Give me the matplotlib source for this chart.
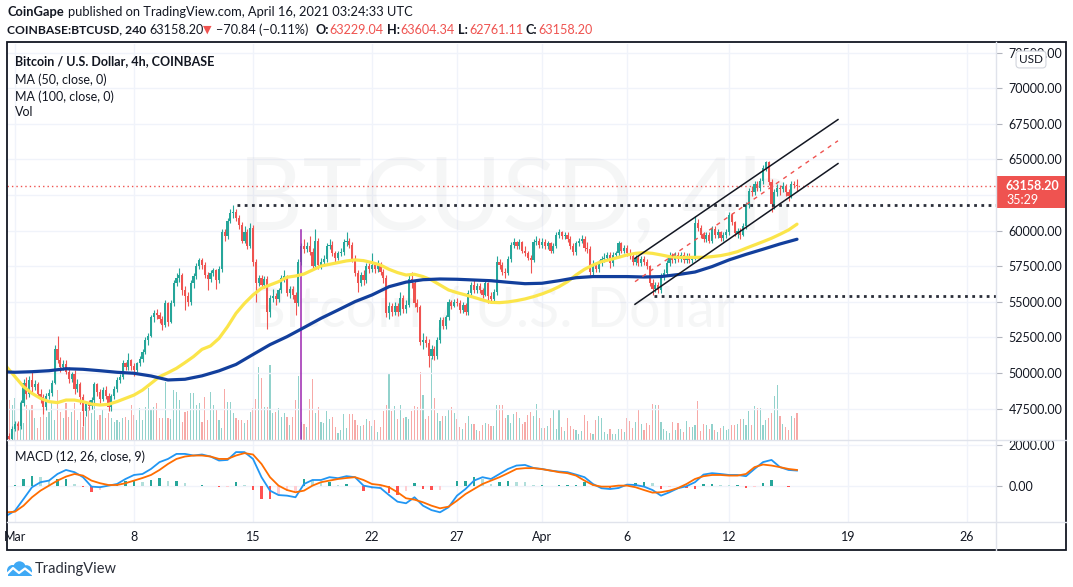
import numpy as np
import matplotlib
matplotlib.use('Agg')
import matplotlib.pyplot as plt
from matplotlib.patches import Rectangle, Circle
from matplotlib.lines import Line2D

plt.rcParams['font.family'] = ['Lato', 'DejaVu Sans']

# ---------------- data (4h candles, first = Feb 28 16:00 UTC) ----------------
first_open = 45600
closes = [
    45350, 46100,                               # Feb 28
    46400, 46300, 47900, 49300, 48500, 49500,   # Mar 1
    49000, 49200, 48500, 48300, 47600, 48400,   # Mar 2
    48600, 49300, 51700, 50900, 50400, 50600,   # Mar 3
    50100, 49600, 49900, 48900, 49200, 48300,   # Mar 4
    47300, 47800, 47700, 48100, 49200, 48700,   # Mar 5
    48200, 48800, 48400, 47600, 48400, 48900,   # Mar 6
    49500, 49700, 50700, 50400, 50900, 50500,   # Mar 7
    50200, 50700, 51000, 51500, 52300, 52600,   # Mar 8
    53900, 54200, 54100, 53800, 53400, 54900,   # Mar 9
    53600, 54900, 56300, 56700, 56900, 55800,   # Mar 10
    55400, 55000, 56300, 56800, 57500, 57900,   # Mar 11
    57600, 56900, 56600, 57000, 57200, 56500,   # Mar 12
    57300, 59900, 59600, 60700, 61200, 61300,   # Mar 13
    60900, 60400, 59300, 59900, 58900, 60200,   # Mar 14
    57800, 56300, 56700, 56200, 56600, 54300,   # Mar 15
    55300, 55400, 55200, 55800, 56700, 56800,   # Mar 16
    55600, 55900, 55500, 54900, 57800, 58900,   # Mar 17
    58700, 58900, 58500, 57500, 59300, 57600,   # Mar 18
    57800, 58000, 58900, 59000, 58400, 58100,   # Mar 19
    58400, 58500, 59200, 59300, 59000, 58000,   # Mar 20
    57000, 56300, 56900, 56500, 57500, 57300,   # Mar 21
    57600, 57300, 57600, 57100, 56700, 54200,   # Mar 22
    54700, 54300, 54700, 54300, 55300, 54500,   # Mar 23
    54800, 56600, 56300, 54900, 54600, 52200,   # Mar 24
    52300, 52100, 51200, 51700, 51200, 52300,   # Mar 25
    53700, 53300, 53900, 55000, 54700, 55000,   # Mar 26
    54900, 54400, 54800, 54300, 55600, 56200,   # Mar 27
    55800, 56100, 55800, 55500, 56300, 55400,   # Mar 28
    55200, 55700, 57800, 57600, 57100, 57000,   # Mar 29
    58000, 59000, 59200, 58900, 59200, 58600,   # Mar 30
    58400, 58100, 57900, 59200, 59300, 59000,   # Mar 31
    59200, 58900, 59100, 58600, 58900, 59700,   # Apr 1
    59900, 59600, 59700, 59400, 58900, 58500,   # Apr 2
    59100, 59300, 59400, 58800, 58700, 57100,   # Apr 3
    57600, 57300, 57700, 58000, 58100, 58300,   # Apr 4
    57700, 58300, 58400, 59100, 58600, 58800,   # Apr 5
    58400, 58200, 57800, 58100, 57700, 58000,   # Apr 6
    57800, 57500, 56300, 55900, 56200, 55800,   # Apr 7
    56800, 57000, 57700, 58300, 57900, 58300,   # Apr 8
    58000, 58300, 57900, 58200, 57900, 58000,   # Apr 9
    60500, 60200, 59700, 59400, 59700, 59300,   # Apr 10
    60100, 59700, 59900, 59500, 59700, 59900,   # Apr 11
    61100, 60600, 59800, 60000, 59700, 60300,   # Apr 12
    61800, 62800, 62700, 63300, 63000, 63500,   # Apr 13
    64400, 64800, 63400, 61900, 62700, 63000,   # Apr 14
    62900, 63100, 62700, 62400, 63300, 63229.04,  # Apr 15
    63158.20,                                   # Apr 16 00:00
]
highs = [
    45800, 46300,
    46600, 46600, 48100, 49600, 49700, 49800,
    50100, 49500, 49400, 48900, 48500, 48600,
    48900, 49500, 52000, 52600, 51100, 50900,
    50900, 50400, 50100, 50200, 49600, 49400,
    48500, 47900, 48100, 48300, 49400, 49300,
    48900, 49000, 49100, 48600, 48500, 49100,
    49700, 49900, 50900, 50800, 51400, 51000,
    50700, 50800, 51200, 51700, 52500, 52800,
    54100, 54400, 54500, 54300, 54000, 55100,
    55000, 55100, 56500, 57000, 57400, 57000,
    56100, 55700, 56500, 57000, 57700, 58100,
    58100, 57800, 57100, 57200, 57400, 57300,
    57500, 60100, 60100, 60900, 61500, 61800,
    61500, 61100, 60600, 60300, 60100, 60500,
    60400, 58000, 56900, 56900, 56800, 56800,
    55500, 55900, 55600, 56000, 56900, 57200,
    56900, 56100, 56100, 55700, 58000, 59100,
    59400, 59200, 59600, 58800, 60100, 59500,
    58100, 58300, 59100, 59400, 59300, 58600,
    58600, 58800, 59400, 59900, 59500, 59200,
    58300, 57200, 57100, 57200, 57700, 57700,
    58400, 57800, 57900, 57800, 57300, 56900,
    55000, 54900, 55000, 54900, 55700, 55500,
    55100, 56900, 57100, 56500, 55200, 54800,
    52800, 52600, 52400, 52000, 51900, 52500,
    53900, 53900, 54100, 55200, 55100, 55200,
    55300, 55100, 55000, 54900, 55800, 56400,
    56500, 56300, 56300, 56000, 56500, 56400,
    55700, 55900, 58200, 58000, 57800, 57400,
    58200, 59200, 59500, 59300, 59400, 59300,
    58900, 58600, 58300, 59400, 59600, 59500,
    59500, 59400, 59300, 59200, 59100, 59900,
    60100, 60000, 59900, 59900, 59600, 59100,
    59300, 59500, 59700, 59600, 59200, 58900,
    57900, 57800, 57900, 58200, 58400, 58500,
    58500, 58500, 58600, 59300, 59200, 59000,
    59000, 58700, 58400, 58300, 58300, 58200,
    58200, 58000, 57600, 56600, 56400, 56400,
    57000, 57300, 57900, 58500, 58400, 58500,
    58500, 58500, 58500, 58400, 58400, 58200,
    61000, 60800, 60400, 59900, 59900, 59900,
    60300, 60300, 60100, 60000, 59900, 60100,
    61300, 61200, 60700, 60200, 60200, 60500,
    62000, 63000, 63100, 63500, 63500, 63700,
    64600, 64900, 64900, 63600, 62900, 63300,
    63200, 63400, 63300, 62900, 63500, 63500,
    63604.34,
]
lows = [
    45200, 45200,
    45900, 46000, 46100, 47700, 48200, 48300,
    48700, 48800, 48300, 47900, 47100, 47400,
    48200, 48400, 49200, 50700, 50100, 50200,
    49900, 49300, 49400, 48500, 48700, 47800,
    46300, 47000, 47400, 47500, 47900, 48400,
    47900, 48000, 48200, 47300, 47300, 48200,
    48700, 49300, 49600, 50200, 50200, 50200,
    49800, 50100, 50500, 50800, 51300, 52000,
    52500, 53600, 53800, 53500, 53000, 53200,
    53300, 53500, 54700, 56100, 56400, 55500,
    54400, 54700, 54800, 56000, 56600, 57300,
    57300, 56700, 55800, 56400, 56800, 55900,
    56300, 57100, 59300, 59400, 60500, 60900,
    60700, 60100, 59100, 59100, 58700, 58800,
    57500, 55000, 56100, 56000, 56000, 53100,
    53900, 55000, 54800, 55000, 55600, 56400,
    55400, 55300, 55200, 54100, 54700, 57600,
    58400, 58500, 58300, 57200, 57300, 57300,
    57300, 57500, 57800, 58700, 58200, 57800,
    57900, 58200, 58300, 58900, 58800, 57800,
    56800, 55700, 56100, 56200, 56300, 57000,
    57100, 57000, 57100, 56900, 56300, 53900,
    53800, 54000, 54100, 54000, 54100, 54200,
    54200, 54600, 56000, 54600, 54300, 52000,
    51700, 51800, 50400, 51000, 50900, 51000,
    52100, 53100, 53100, 53700, 54500, 54600,
    54700, 54200, 54200, 54100, 54100, 55400,
    55600, 55600, 55600, 55300, 55400, 54900,
    54900, 55000, 55500, 57300, 56900, 56700,
    56900, 57800, 58800, 58700, 58700, 58400,
    58200, 57900, 57000, 57800, 59000, 58800,
    58800, 58700, 58700, 58400, 58400, 58800,
    59500, 59400, 59400, 59200, 58700, 58300,
    58300, 58900, 59100, 58600, 58400, 56900,
    56900, 57100, 57100, 57500, 57800, 57900,
    57400, 57500, 58100, 58200, 58400, 58400,
    58200, 58000, 57600, 57600, 57500, 57500,
    57600, 57300, 56100, 55500, 55700, 55600,
    55600, 56500, 56800, 57500, 57700, 57700,
    57800, 57800, 57700, 57700, 57700, 57700,
    57900, 60000, 59500, 59200, 59200, 59100,
    59100, 59500, 59500, 59300, 59300, 59500,
    59700, 60400, 59600, 59500, 59400, 59600,
    60100, 61600, 62400, 62500, 62800, 62800,
    63300, 64200, 63200, 61300, 61500, 62400,
    62500, 62700, 62400, 62100, 62300, 63000,
    62761.11,
]
volume = [
    4000, 3500,
    4200, 1700, 3800, 1700, 3500, 3000,
    3500, 2200, 1200, 2300, 2800, 2300,
    2800, 3700, 2000, 5000, 2800, 2200,
    3700, 2300, 2800, 3700, 2000, 2800,
    1300, 2300, 3300, 2700, 3500, 2000,
    2500, 3000, 2200, 2700, 2200, 1800,
    2000, 1800, 2200, 2300, 2000, 3500,
    2500, 2000, 3200, 2000, 3300, 5200,
    3000, 3300, 3700, 2200, 2200, 5800,
    2200, 2100, 5000, 4800, 4000, 1800,
    2800, 2900, 4700, 4700, 3500, 3700,
    1800, 4300, 2000, 4800, 3500, 3000,
    2000, 1200, 5100, 3800, 3800, 2700,
    2200, 2000, 2000, 1700, 2000, 2800,
    3200, 4100, 7300, 6200, 3300, 3300,
    7500, 2700, 2800, 3200, 2300, 2700,
    2300, 1500, 2300, 4000, 6400, 1800,
    1600, 1300, 4100, 6100, 2700, 3300,
    1800, 1700, 2900, 2100, 2300, 1300,
    700, 1000, 2600, 1200, 2600, 2600,
    2000, 1500, 1400, 1500, 2100, 1900,
    1400, 2000, 800, 1300, 2900, 3500,
    6700, 2900, 3400, 2100, 3500, 2200,
    2300, 2100, 2900, 3400, 3300, 6800,
    4500, 2100, 2400, 8200, 4200, 2700,
    1900, 2400, 2400, 3000, 3300, 2700,
    2100, 1300, 1100, 1700, 2400, 1600,
    1600, 1000, 900, 1500, 1700, 1600,
    1400, 1400, 3500, 3500, 3500, 2200,
    2500, 1700, 2600, 2800, 2200, 1600,
    1800, 2500, 2800, 2400, 3600, 2200,
    1200, 1200, 1400, 2200, 3000, 1100,
    3000, 1300, 900, 2200, 1400, 1100,
    1000, 600, 900, 2500, 1900, 700,
    600, 2000, 2400, 2200, 800, 600,
    1100, 600, 600, 1100, 1100, 800,
    2200, 1900, 1200, 1800, 3100, 1600,
    1000, 1700, 1500, 3600, 3500, 3500,
    1800, 1100, 900, 700, 1800, 1000,
    1700, 1100, 800, 1900, 1300, 1300,
    1500, 3900, 900, 1600, 1500, 1100,
    1600, 1000, 800, 1200, 1400, 1000,
    1100, 1500, 1500, 1600, 2100, 2100,
    1500, 2900, 1500, 3400, 3200, 3200,
    1500, 2000, 2200, 2700, 4400, 5500,
    2400, 1600, 1300, 1000, 2400, 2200,
    2700,
]
# MA(50) read every 12h starting Feb 28 12:00
ma50 = [50440, 49740, 49040, 48570, 48220, 47990, 47920, 48100, 48100, 47990,
        47820, 47750, 47800, 47990, 48220, 48450, 48800, 49270, 49740, 50020,
        50330, 50730, 51150, 51660, 51900, 52430, 53250, 54190, 54890, 55480,
        55950, 56180, 56410, 56720, 56810, 56950, 57230, 57510, 57630, 57750,
        57870, 57940, 57890, 57750, 57580, 57280, 57050, 56880, 56930, 56770,
        56530, 56180, 55830, 55640, 55480, 55310, 55130, 54960, 54940, 54990,
        55080, 55200, 55360, 55550, 55780, 56060, 56410, 56880, 57280, 57580,
        57820, 57960, 58120, 58290, 58400, 58450, 58400, 58290, 58170, 58120,
        58120, 58120, 58120, 58170, 58240, 58360, 58520, 58760, 58990, 59220,
        59460, 59740, 60040, 60450]
# MA(100) read daily starting Feb 28 00:00
ma100 = [50100, 50050, 50090, 50160, 50300, 50260, 50160, 50050, 49980, 49790,
         49510, 49560, 49800, 50150, 50600, 51300, 51990, 52550, 53190, 53840,
         54420, 55010, 55480, 56060, 56380, 56550, 56600, 56580, 56530, 56480,
         56370, 56270, 56300, 56480, 56690, 56770, 56770, 56770, 56740, 56770,
         56910, 57090, 57470, 57940, 58330, 58690, 59060, 59390]
# MACD (12, 26, 9) read every 12h starting Feb 28 12:00
macd = [-1500, -1250, -670, -80, 170, 250, 580, 780, 670, 420,
        -50, -80, 0, 80, 330, 530, 580, 830, 1170, 1330,
        1580, 1580, 1500, 1550, 1450, 1250, 1280, 1670, 1670, 1330,
        420, -250, -470, -500, -580, 80, 280, 280, 420, 370,
        470, 420, 0, -80, -120, -470, -800, -880, -580, -1000,
        -1220, -1330, -1080, -500, -170, 250, 420, 330, 580, 830,
        1000, 1030, 880, 830, 750, 700, 670, 550, 420, 80,
        -130, -170, -120, 50, 30, -50, -220, -500, -330, -130,
        -30, 170, 550, 620, 580, 530, 530, 470, 830, 1170,
        1280, 920, 780, 750]
signal = [-1330, -1300, -1000, -580, -250, 0, 250, 450, 580, 500,
          250, 120, 30, 30, 120, 250, 380, 530, 780, 1080,
          1330, 1450, 1500, 1500, 1450, 1330, 1330, 1500, 1620, 1550,
          1080, 420, 0, -220, -330, -250, 0, 170, 250, 330,
          380, 420, 280, 80, 30, -80, -330, -630, -700, -830,
          -1000, -1130, -1050, -750, -420, -170, 80, 250, 420, 620,
          830, 870, 870, 820, 750, 670, 620, 500, 250, 30,
          -50, -50, 0, 0, -80, -220, -350, -330, -250, -120,
          80, 330, 470, 530, 530, 500, 500, 580, 920, 1050,
          1000, 920, 830, 780]
date_ticks = [0, 7, 14, 21, 26, 31, 36, 42, 49, 56]
date_labels = ['Mar', '8', '15', '22', '27', 'Apr', '6', '12', '19', '26']
price_ticks = [47500, 50000, 52500, 55000, 57500, 60000, 62500, 65000, 67500, 70000, 72500]
resistance, support = 61800, 55400
channel_t = [36.47, 48.41]
channel_upper = [58054, 67794]
channel_mid = [56411, 66305]
channel_lower = [54824, 64704]
last_price = 63158.20

# ---------------- figure ----------------
W, H = 1073, 587
fig = plt.figure(figsize=(W / 100, H / 100), dpi=100)
fig.patch.set_facecolor('white')


def fx(px):
    return px / W


def fy(py):
    return 1 - py / H


X0, X1 = 7, 996
MAIN_T, MAIN_B = 44, 439.5
MACD_T, MACD_B = 440.5, 521.5
XMIN, XMAX = (X0 - 15) / 17.0, (X1 - 15) / 17.0
YMIN, YMAX = 45330, 73100

UP, DN = '#26a69a', '#ef5350'
TXT = '#131722'
GRID = '#f0f3fa'

n = min(len(closes), len(highs), len(lows))
c = np.array(closes[:n], dtype=float)
o = np.array(([first_open] + closes[:-1])[:n], dtype=float)
h = np.maximum(np.array(highs[:n], dtype=float), np.maximum(o, c))
l = np.minimum(np.array(lows[:n], dtype=float), np.minimum(o, c))
t = (np.arange(n) - 2) / 6.0
up = c >= o
cols = np.where(up, UP, DN)

rect_main = [fx(X0), fy(MAIN_B), fx(X1 - X0), (MAIN_B - MAIN_T) / H]
axv = fig.add_axes(rect_main)
ax = fig.add_axes(rect_main)
ax.patch.set_alpha(0)
axm = fig.add_axes([fx(X0), fy(MACD_B), fx(X1 - X0), (MACD_B - MACD_T) / H])

# volume
nv = min(n, len(volume))
vcols = np.where(up[:nv], '#92d2cc', '#f7a9a7')
axv.bar(t[:nv], np.array(volume[:nv]), width=0.075, color=vcols, linewidth=0)
axv.set_xlim(XMIN, XMAX)
axv.set_ylim(0, (MAIN_B - MAIN_T) * 100)
axv.axis('off')

# main axes
ax.set_xlim(XMIN, XMAX)
ax.set_ylim(YMIN, YMAX)
ax.set_xticks(date_ticks)
ax.set_yticks(price_ticks)
ax.set_yticklabels(['' if v == 62500 else f'{v:.2f}' for v in price_ticks])
ax.yaxis.tick_right()
ax.tick_params(axis='y', length=4, width=0.8, color='#b2b5be', pad=5, labelsize=9, labelcolor=TXT)
ax.tick_params(axis='x', length=0, labelbottom=False)
ax.grid(True, color=GRID, lw=1)
ax.set_axisbelow(True)
for s in ax.spines.values():
    s.set_visible(False)

# watermark
wm = (149 / 255, 152 / 255, 161 / 255, 0.085)
ax.text(29.5, 62100, 'BTCUSD, 4h', fontsize=72, color=wm, ha='center', va='center', zorder=1)
ax.text(28.1, 54300, 'Bitcoin / U.S. Dollar', fontsize=40, color=wm, ha='center', va='center', zorder=1)

# candles
ax.vlines(t, l, h, colors=cols, lw=0.8, zorder=3)
ax.bar(t, np.maximum(np.abs(c - o), 45), bottom=np.minimum(o, c), width=0.125,
       color=cols, linewidth=0, zorder=4)

# moving averages
ax.plot(np.arange(len(ma50)) * 0.5 - 0.5, ma50, color='#fbe54a', lw=2.3, zorder=5,
        solid_joinstyle='round', solid_capstyle='round')
ax.plot(np.arange(len(ma100)) * 1.0 - 1.0, ma100, color='#123f9c', lw=2.3, zorder=5,
        solid_joinstyle='round', solid_capstyle='round')

# purple marker line
ax.plot([16.85, 16.85], [YMIN, 60040], color='#9c27b0', lw=1.1, zorder=4)

# horizontal levels
ax.axhline(last_price, color=DN, lw=1.0, ls=(0, (1, 2.2)), zorder=2)
ax.plot([13.06, XMAX], [resistance, resistance], color='#2a2e39', lw=2.0, ls=(0, (1, 1.6)), zorder=6)
ax.plot([37.6, XMAX], [support, support], color='#2a2e39', lw=2.0, ls=(0, (1, 1.6)), zorder=6)

# channel
ax.plot(channel_t, channel_upper, color='#131722', lw=1.1, zorder=6)
ax.plot(channel_t, channel_lower, color='#131722', lw=1.1, zorder=6)
ax.plot(channel_t, channel_mid, color=DN, lw=1.0, ls=(0, (3, 3.5)), zorder=6)

# MACD pane
mt = np.arange(len(macd)) * 0.5 - 0.5
mv = np.array(macd, dtype=float)
sv = np.array(signal[:len(macd)], dtype=float)
hist = mv - sv
hcols = []
for k in range(len(hist)):
    prev = hist[k - 1] if k > 0 else hist[k]
    if hist[k] >= 0:
        hcols.append('#26a69a' if hist[k] >= prev else '#b2dfdb')
    else:
        hcols.append('#ffcdd2' if hist[k] >= prev else '#ff5252')
axm.bar(mt, hist, width=0.12, color=hcols, linewidth=0, zorder=2)
axm.plot(mt, mv, color='#2196f3', lw=1.3, zorder=3)
axm.plot(mt, sv, color='#ff6d00', lw=1.3, zorder=3)
axm.set_xlim(XMIN, XMAX)
axm.set_ylim(-1788, 2248)
axm.set_yticks([0, 2000])
axm.set_yticklabels(['0.00', '2000.00'])
axm.yaxis.tick_right()
axm.tick_params(axis='y', length=4, width=0.8, color='#b2b5be', pad=5, labelsize=9, labelcolor=TXT)
axm.set_xticks(date_ticks)
axm.set_xticklabels(date_labels)
axm.tick_params(axis='x', length=0, pad=7, labelsize=9, labelcolor=TXT)
axm.grid(True, color=GRID, lw=1)
axm.set_axisbelow(True)
axm.patch.set_alpha(0)
for s in axm.spines.values():
    s.set_visible(False)

# ---------------- frame ----------------
SEP = '#e0e3eb'
fig.add_artist(Line2D([fx(X1), fx(X1)], [fy(42), fy(550)], color=SEP, lw=1))
fig.add_artist(Line2D([fx(X0), fx(1066)], [fy(440), fy(440)], color=SEP, lw=1))
fig.add_artist(Line2D([fx(X0), fx(1066)], [fy(521.5), fy(521.5)], color=SEP, lw=1))
fig.add_artist(Rectangle((fx(7), fy(550)), fx(1066 - 7), (550 - 42) / H, fill=False,
                         ec='#131722', lw=1.3, transform=fig.transFigure))

# last price label
fig.add_artist(Rectangle((fx(997), fy(208)), fx(68), 32 / H, fc=DN, ec='none', transform=fig.transFigure))
fig.text(fx(1006), fy(186.5), '63158.20', fontsize=9, weight='bold', color='white', va='center')
fig.text(fx(1006), fy(200.5), '35:29', fontsize=9, color='white', va='center')

# USD badge
fig.text(fx(1031), fy(59.5), 'USD', fontsize=8.5, color=TXT, ha='center', va='center',
         bbox=dict(boxstyle='round,pad=0.25,rounding_size=0.3', fc='white', ec='#d1d4dc', lw=0.8))

# legends inside the chart
fig.text(fx(15), fy(61), 'Bitcoin / U.S. Dollar, 4h, COINBASE', fontsize=9, weight='bold', color=TXT, va='center')
fig.text(fx(15), fy(79.5), 'MA (50, close, 0)', fontsize=9, color=TXT, va='center')
fig.text(fx(15), fy(96.5), 'MA (100, close, 0)', fontsize=9, color=TXT, va='center')
fig.text(fx(15), fy(112.5), 'Vol', fontsize=9, color=TXT, va='center')
fig.text(fx(15), fy(457), 'MACD (12, 26, close, 9)', fontsize=9, color=TXT, va='center')

# header (each piece placed where it sits in the published snapshot)
HS = 9.3
header1 = [('CoinGape', 7, dict(weight='bold', color=TXT)),
           ('published on TradingView.com, April 16, 2021 03:24:33 UTC', 67.5, dict(color=TXT))]
header2 = [('COINBASE:BTCUSD, 240', 7, dict(weight='bold', color=TXT, fontsize=8.7)),
           ('63158.20', 149.5, dict(color=TXT, fontsize=9.1)),
           ('\u25bc', 202.5, dict(color=DN, family=['DejaVu Sans'], fontsize=8)),
           ('\u221270.84 (\u22120.11%)', 216, dict(color=TXT, fontsize=9.1)),
           ('O:', 316, dict(weight='bold', color=TXT, fontsize=9.1)),
           ('63229.04', 329, dict(color=DN, fontsize=9.1)),
           ('H:', 387.5, dict(weight='bold', color=TXT, fontsize=9.1)),
           ('63604.34', 400, dict(color=DN, fontsize=9.1)),
           ('L:', 458, dict(weight='bold', color=TXT, fontsize=9.1)),
           ('62761.11', 469.5, dict(color=DN, fontsize=9.1)),
           ('C:', 525.5, dict(weight='bold', color=TXT, fontsize=9.1)),
           ('63158.20', 538, dict(color=DN, fontsize=9.1))]
for row, yy in ((header1, 12.5), (header2, 29.5)):
    for s, xx, kw in row:
        opts = dict(fontsize=HS, va='center', ha='left')
        opts.update(kw)
        fig.text(fx(xx), fy(yy), s, **opts)

# TradingView logo
axl = fig.add_axes([fx(6), fy(577), fx(27), 16 / H])
axl.set_xlim(0, 27)
axl.set_ylim(0, 16)
axl.axis('off')
LB = '#3fa9f5'
for (cx, cy, r) in [(6.5, 6.5, 5.5), (13.5, 9.5, 6.2), (20.5, 6.5, 5.3)]:
    axl.add_patch(Circle((cx, cy), r, fc=LB, ec='none'))
axl.add_patch(Rectangle((1.5, 1.0), 24, 6, fc=LB, ec='none'))
axl.plot([1.5, 7, 13, 19, 26], [3.5, 9, 4, 8.5, 3], color='white', lw=1.6, solid_joinstyle='round')
fig.text(fx(34.5), fy(569), 'TradingView', fontsize=10.5, color='#2a2e39', va='center')

fig.savefig('out.png', dpi=100)
